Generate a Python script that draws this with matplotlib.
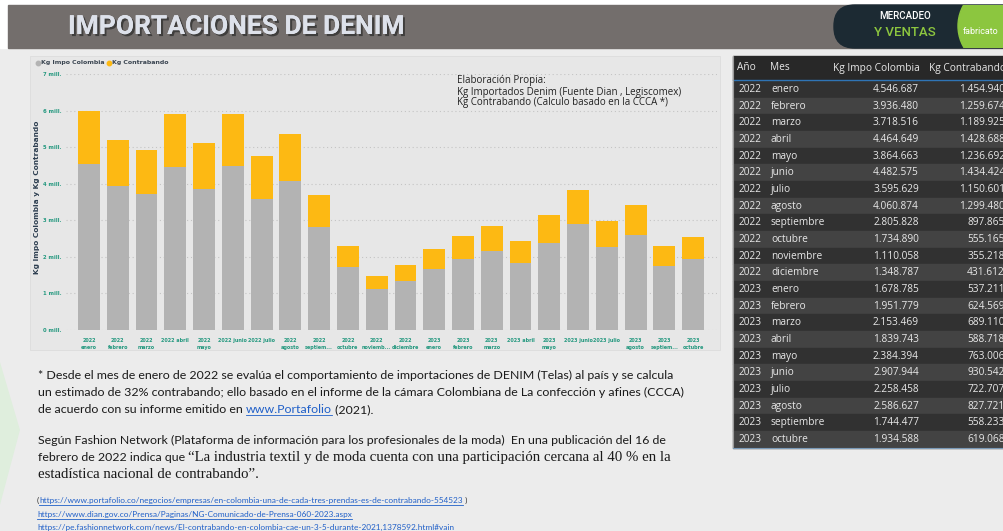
import matplotlib.pyplot as plt
import matplotlib.patheffects as pe
from matplotlib.patches import Rectangle, FancyBboxPatch, Circle, Polygon
import numpy as np

anios = [2022] * 12 + [2023] * 10
meses = ["enero", "febrero", "marzo", "abril", "mayo", "junio", "julio", "agosto",
         "septiembre", "octubre", "noviembre", "diciembre",
         "enero", "febrero", "marzo", "abril", "mayo", "junio", "julio", "agosto",
         "septiembre", "octubre"]
kg_impo = [4546687, 3936480, 3718516, 4464649, 3864663, 4482575, 3595629, 4060874,
           2805828, 1734890, 1110058, 1348787,
           1678785, 1951779, 2153469, 1839743, 2384394, 2907944, 2258458, 2586627,
           1744477, 1934588]
kg_contrabando = [1454940, 1259674, 1189925, 1428688, 1236692, 1434424, 1150601, 1299480,
                  897865, 555165, 355218, 431612,
                  537211, 624569, 689110, 588718, 763006, 930542, 722707, 827721,
                  558233, 619068]
x_labels = ["2022\nenero", "2022\nfebrero", "2022\nmarzo", "2022 abril", "2022\nmayo",
            "2022 junio", "2022 julio", "2022\nagosto", "2022\nseptiem...", "2022\noctubre",
            "2022\nnoviemb...", "2022\ndiciembre",
            "2023\nenero", "2023\nfebrero", "2023\nmarzo", "2023 abril", "2023\nmayo",
            "2023 junio", "2023 julio", "2023\nagosto", "2023\nseptiem...", "2023\noctubre"]

W, H = 1004, 531
fig = plt.figure(figsize=(W / 100, H / 100), dpi=100)
fig.patch.set_facecolor("#ececec")

# background axes in pixel coordinates
bg = fig.add_axes([0, 0, 1, 1], zorder=0)
bg.set_xlim(0, W)
bg.set_ylim(H, 0)
bg.axis("off")

# header
bg.add_patch(Rectangle((0, 0), W, 5, color="white"))
bg.add_patch(Rectangle((0, 0), 8, 48, color="white"))
bg.add_patch(Rectangle((8, 5), W - 8, 43, color="#736e6c"))
bg.text(68, 27, "IMPORTACIONES DE DENIM", fontsize=19, fontweight="bold",
        family="Roboto", color="#dde1ea", va="center",
        path_effects=[pe.withSimplePatchShadow(offset=(1.5, -1.5), shadow_rgbFace="#2a2a2a", alpha=0.7),
                      pe.Normal()])
bg.add_patch(FancyBboxPatch((834, 5), 200, 43, boxstyle="round,pad=0,rounding_size=21",
                            color="#1c2a33"))
hdr_clip = Rectangle((8, 5), W - 8, 43, transform=bg.transData)
c = Circle((1000, 26), 42, color="#8cc63f")
bg.add_patch(c)
c.set_clip_path(hdr_clip)
bg.text(905, 16, "MERCADEO", fontsize=7, color="white", ha="center", va="center",
        family="Roboto", fontweight="medium")
bg.text(905, 32, "Y VENTAS", fontsize=9.5, color="#8dc63f", ha="center", va="center",
        family="Roboto", fontweight="medium")
bg.text(963, 31, "fabricato", fontsize=6.5, color="white", va="center", family="Roboto")

# faint watermark on the left
bg.add_patch(Polygon([(0, 362), (20, 430), (0, 505)], color="#dfeedd", lw=0))

# chart panel
bg.add_patch(Rectangle((30, 56), 690, 294, facecolor="#e7e7e7", edgecolor="#dcdcdc", lw=0.6))

teal = "#24987f"
ax = fig.add_axes([66 / W, 1 - 330 / H, 651 / W, 256 / H], zorder=2)
ax.set_facecolor("none")
x = np.arange(len(kg_impo))
ax.bar(x, kg_impo, width=0.76, color="#b3b3b3", zorder=3)
ax.bar(x, kg_contrabando, bottom=kg_impo, width=0.76, color="#fdb913", zorder=3)
ax.set_xlim(-0.8, 21.83)
ax.set_ylim(0, 7e6)
ax.set_yticks(np.arange(0, 8) * 1e6)
ax.set_yticklabels([f"{i} mill." for i in range(8)], fontsize=3.8, fontweight="bold", color=teal)
ax.set_xticks(x)
ax.set_xticklabels(x_labels, fontsize=3.5, fontweight="bold", color=teal, linespacing=1.5, va="top")
ax.tick_params(length=0, pad=3)
ax.tick_params(axis="x", pad=6)
ax.grid(axis="y", color="#c4c4c4", linestyle=(0, (1, 2.5)), lw=0.8, zorder=0)
for s in ax.spines.values():
    s.set_visible(False)

bg.text(37, 197, "Kg Impo Colombia y Kg Contrabando", rotation=90, fontsize=5.3,
        fontweight="bold", color="#2d3e50", ha="center", va="center")

fig.canvas.draw()
rend = fig.canvas.get_renderer()


def put(xp, yp, s, underline=False, va="baseline", **kw):
    t = bg.text(xp, yp, s, va=va, **kw)
    bb = t.get_window_extent(rend)
    if underline:
        bg.plot([bb.x0, bb.x1], [yp + 1.5, yp + 1.5], color=kw.get("color", "k"), lw=0.6)
    return bb.x1


# legend
leg = dict(fontsize=4.5, fontweight="bold", color="#3b4652", va="center")
bg.plot([38], [62.5], "o", ms=3.2, color="#b3b3b3")
xe = put(41, 62.5, "Kg Impo Colombia", **leg)
bg.plot([xe + 5], [62.5], "o", ms=3.2, color="#fdb913")
put(xe + 8, 62.5, "Kg Contrabando", **leg)

# annotation
for yy, t in zip([81, 92, 103], ["Elaboración Propia:",
                                 "Kg Importados Denim (Fuente Dian , Legiscomex)",
                                 "Kg Contrabando (Calculo basado en la CCCA *)"]):
    bg.text(457, yy, t, fontsize=7, color="#222222", va="center", family="Open Sans")

# table
tx0, ty0, row_h = 733, 56, 16.67
bg.add_patch(Rectangle((tx0, ty0), W - tx0, 24, color="#282828"))
bg.plot([tx0, W], [80, 80], color="#2f74b5", lw=1)
tfont = dict(fontsize=7.3, color="#e8e8e8", va="center", family="Open Sans")
bg.text(737, 68, "Año", **tfont)
bg.text(770, 68, "Mes", **tfont)
bg.text(920, 68, "Kg Impo Colombia", ha="right", **tfont)
bg.text(1006, 68, "Kg Contrabando", ha="right", **tfont)
for i, (a, m, v1, v2) in enumerate(zip(anios, meses, kg_impo, kg_contrabando)):
    top = 81 + i * row_h
    bg.add_patch(Rectangle((tx0, top), W - tx0, row_h, color="#313131" if i % 2 == 0 else "#434343"))
    yc = top + row_h / 2
    bg.text(739, yc, str(a), **tfont)
    bg.text(771, yc, m, **tfont)
    bg.text(919, yc, f"{v1:,}".replace(",", "."), ha="right", **tfont)
    bg.text(1005, yc, f"{v2:,}".replace(",", "."), ha="right", **tfont)
bg.plot([tx0, tx0], [ty0, 448], color="#9a9a9a", lw=0.8)
bg.plot([tx0, W], [448, 448], color="#7a9ab8", lw=0.8)

# body text
body = dict(fontsize=8.95, color="#1a1a1a", family="Lato")
serif = dict(fontsize=10.75, color="#1a1a1a", family="Liberation Serif")
link = "#1f5fc8"
put(38, 379, "* Desde el mes de enero de 2022 se evalúa el comportamiento de importaciones de DENIM (Telas) al país y se calcula", **body)
put(38, 396, "un estimado de 32% contrabando; ello basado en el informe de la cámara Colombiana de La confección y afines (CCCA)", **body)
xe = put(38, 413, "de acuerdo con su informe emitido en ", **body)
xe = put(xe, 413, "www.Portafolio", underline=True, fontsize=8.95, color=link, family="Lato")
put(xe, 413, " (2021).", **body)
put(38, 444, "Según Fashion Network (Plataforma de información para los profesionales de la moda)  En una publicación del 16 de", **body)
xe = put(38, 461, "febrero de 2022 indica que ", **body)
put(xe, 461, "“La industria textil y de moda cuenta con una participación cercana al 40 % en la", **serif)
put(38, 478, "estadística nacional de contrabando”.", **serif)

lk = dict(fontsize=5.95, family="Lato")
xe = put(37, 503, "(", color="#333333", **lk)
xe = put(xe, 503, "https://www.portafolio.co/negocios/empresas/en-colombia-una-de-cada-tres-prendas-es-de-contrabando-554523",
         underline=True, color=link, **lk)
put(xe, 503, " )", color="#333333", **lk)
put(37, 517, "https://www.dian.gov.co/Prensa/Paginas/NG-Comunicado-de-Prensa-060-2023.aspx",
    underline=True, color=link, **lk)
put(37, 530, "https://pe.fashionnetwork.com/news/El-contrabando-en-colombia-cae-un-3-5-durante-2021,1378592.html#vain",
    underline=True, color=link, **lk)

fig.savefig("out.png", dpi=100, facecolor=fig.get_facecolor())
